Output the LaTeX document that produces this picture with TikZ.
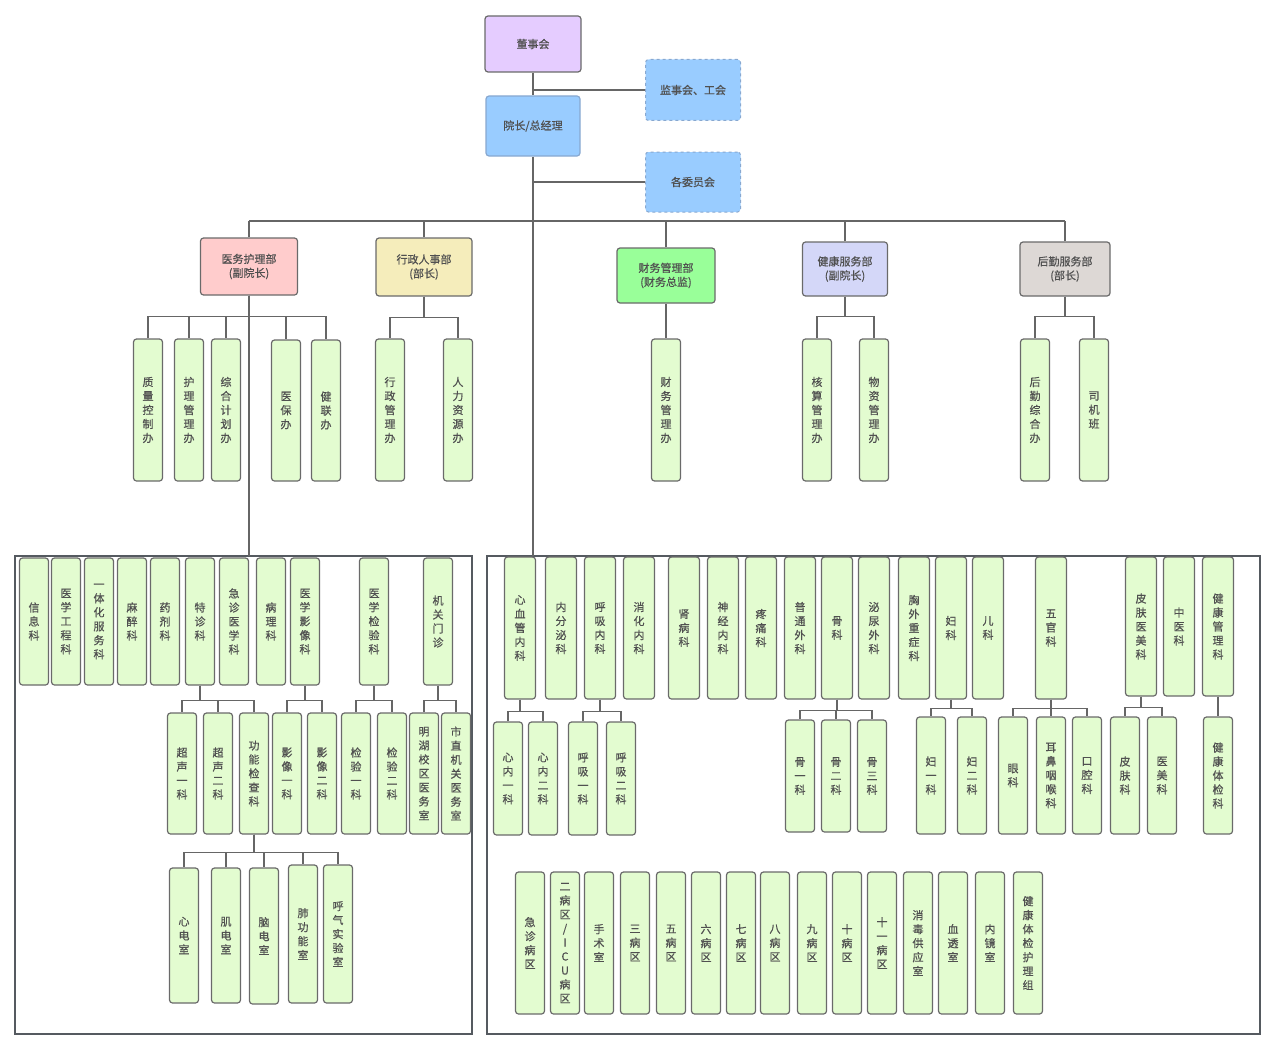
\documentclass[tikz,border=0pt]{standalone}
\usepackage{fontspec}
\setmainfont{Noto Sans CJK SC}[FakeBold=0.6]

\definecolor{txtgray}{HTML}{505050}
\definecolor{edgegray}{HTML}{6A6A6A}
\definecolor{linegray}{HTML}{666666}
\definecolor{framegray}{HTML}{555A60}
\definecolor{cellgreen}{HTML}{E3FCD0}
\definecolor{lavender}{HTML}{E5CCFF}
\definecolor{skyblue}{HTML}{99CCFF}
\definecolor{dashblue}{HTML}{88A8D0}
\definecolor{pinkred}{HTML}{FFCCCC}
\definecolor{sand}{HTML}{F5EDBB}
\definecolor{brightgreen}{HTML}{99FF99}
\definecolor{periwinkle}{HTML}{D4D7F8}
\definecolor{stone}{HTML}{DDD8D5}

\tikzset{
  every node/.style={font=\fontsize{11}{14}\selectfont,text=txtgray},
  cell/.style={draw=edgegray,line width=1.2pt,rounded corners=3pt,fill=cellgreen,
    minimum width=29,inner sep=0pt,align=center},
  wcell/.style={cell,minimum width=31},
  dept/.style={draw=edgegray,line width=1.2pt,rounded corners=3pt,inner sep=0pt,align=center},
  side/.style={draw=dashblue,dashed,line width=1pt,rounded corners=3pt,fill=skyblue,
    inner sep=0pt,minimum width=95,minimum height=61},
  link/.style={draw=linegray,line width=1.3pt},
  frame/.style={draw=framegray,line width=1.6pt},
}

\begin{document}
\begin{tikzpicture}[x=1pt,y=-1pt]
\useasboundingbox (0,0) rectangle (1268,1046);

% top
\node[dept,fill=lavender,minimum width=96,minimum height=56] (dsh) at (533,44) {董事会};
\node[dept,draw=dashblue,fill=skyblue,minimum width=94,minimum height=60] (yz) at (533,126) {院长/总经理};
\node[side] (jsh) at (693,90) {监事会、工会};
\node[side,minimum height=60] (wyh) at (693,182) {各委员会};
\coordinate (bar) at (533,221);
\coordinate (rtop) at (533,556);
\coordinate (ltop) at (249,556);

% departments
\node[dept,fill=pinkred,minimum width=97,minimum height=57] (ylhl) at (249,266.5) {医务护理部\\(副院长)};
\node[dept,fill=sand,minimum width=96,minimum height=58] (xzrs) at (424,267) {行政人事部\\(部长)};
\node[dept,fill=brightgreen,minimum width=98,minimum height=55] (cwb) at (666,275.5) {财务管理部\\(财务总监)};
\node[dept,fill=periwinkle,minimum width=85,minimum height=54] (jkfw) at (845,269) {健康服务部\\(副院长)};
\node[dept,fill=stone,minimum width=90,minimum height=54] (hqfw) at (1065,269) {后勤服务部\\(部长)};

% offices
\node[cell,minimum height=142] (zlkz) at (148,410) {质\\量\\控\\制\\办};
\node[cell,minimum height=142] (hlgl) at (189,410) {护\\理\\管\\理\\办};
\node[cell,minimum height=142] (zhjh) at (226,410) {综\\合\\计\\划\\办};
\node[cell,minimum height=141] (ybb) at (286,410.5) {医\\保\\办};
\node[cell,minimum height=141] (jlb) at (326,410.5) {健\\联\\办};
\node[cell,minimum height=142] (xzgl) at (390,410) {行\\政\\管\\理\\办};
\node[cell,minimum height=142] (rlzy) at (458,410) {人\\力\\资\\源\\办};
\node[cell,minimum height=142] (cwgl) at (666,410) {财\\务\\管\\理\\办};
\node[cell,minimum height=142] (hsgl) at (817,410) {核\\算\\管\\理\\办};
\node[cell,minimum height=142] (wzgl) at (874,410) {物\\资\\管\\理\\办};
\node[cell,minimum height=142] (hqzh) at (1035,410) {后\\勤\\综\\合\\办};
\node[cell,minimum height=142] (sjb) at (1094,410) {司\\机\\班};

% frames
\draw[frame] (15,556) rectangle (472,1034);
\draw[frame] (487,556) rectangle (1260,1034);

% left frame, row 1
\node[cell,minimum height=127] (xxk) at (34,621.5) {信\\息\\科};
\node[cell,minimum height=127] (yxgc) at (66,621.5) {医\\学\\工\\程\\科};
\node[cell,minimum height=127] (ythfw) at (99,621.5) {一\\体\\化\\服\\务\\科};
\node[cell,minimum height=127] (mzk) at (132,621.5) {麻\\醉\\科};
\node[cell,minimum height=127] (yjk) at (165,621.5) {药\\剂\\科};
\node[cell,minimum height=127] (tzk) at (200,621.5) {特\\诊\\科};
\node[cell,minimum height=127] (jzyx) at (234,621.5) {急\\诊\\医\\学\\科};
\node[cell,minimum height=127] (blk) at (271,621.5) {病\\理\\科};
\node[cell,minimum height=127] (yxyx) at (305,621.5) {医\\学\\影\\像\\科};
\node[cell,minimum height=127] (yxjy) at (374,621.5) {医\\学\\检\\验\\科};
\node[cell,minimum height=127] (jgmz) at (438,621.5) {机\\关\\门\\诊};

% left frame, row 2
\node[cell,minimum height=121] (cs1) at (182,773.5) {超\\声\\一\\科};
\node[cell,minimum height=121] (cs2) at (218,773.5) {超\\声\\二\\科};
\node[cell,minimum height=121] (gnjc) at (254,773.5) {功\\能\\检\\查\\科};
\node[cell,minimum height=121] (yx1) at (287,773.5) {影\\像\\一\\科};
\node[cell,minimum height=121] (yx2) at (322,773.5) {影\\像\\二\\科};
\node[cell,minimum height=121] (jy1) at (356,773.5) {检\\验\\一\\科};
\node[cell,minimum height=121] (jy2) at (392,773.5) {检\\验\\二\\科};
\node[cell,minimum height=121] (mhxq) at (424,773.5) {明\\湖\\校\\区\\医\\务\\室};
\node[cell,minimum height=121] (szjg) at (456,773.5) {市\\直\\机\\关\\医\\务\\室};

% left frame, row 3
\node[cell,minimum height=135] (xds) at (184,935.5) {心\\电\\室};
\node[cell,minimum height=135] (jds) at (226,935.5) {肌\\电\\室};
\node[cell,minimum height=136] (nds) at (264,936) {脑\\电\\室};
\node[cell,minimum height=138] (fgn) at (303,934) {肺\\功\\能\\室};
\node[cell,minimum height=138] (hqsy) at (338,934) {呼\\气\\实\\验\\室};

% right frame, row 1
\node[wcell,minimum height=142] (xxg) at (520,628) {心\\血\\管\\内\\科};
\node[wcell,minimum height=142] (nfm) at (561,628) {内\\分\\泌\\科};
\node[wcell,minimum height=142] (hxnk) at (600,628) {呼\\吸\\内\\科};
\node[wcell,minimum height=142] (xhnk) at (639,628) {消\\化\\内\\科};
\node[wcell,minimum height=142] (sbk) at (684,628) {肾\\病\\科};
\node[wcell,minimum height=142] (sjnk) at (723,628) {神\\经\\内\\科};
\node[wcell,minimum height=142] (ttk) at (761,628) {疼\\痛\\科};
\node[wcell,minimum height=142] (ptwk) at (800,628) {普\\通\\外\\科};
\node[wcell,minimum height=142] (gk) at (837,628) {骨\\科};
\node[wcell,minimum height=142] (mnwk) at (874,628) {泌\\尿\\外\\科};
\node[wcell,minimum height=142] (xwzz) at (914,628) {胸\\外\\重\\症\\科};
\node[wcell,minimum height=142] (fk) at (951,628) {妇\\科};
\node[wcell,minimum height=142] (ek) at (988,628) {儿\\科};
\node[wcell,minimum height=142] (wgk) at (1051,628) {五\\官\\科};
\node[wcell,minimum height=139] (pfmy) at (1141,626.5) {皮\\肤\\医\\美\\科};
\node[wcell,minimum height=139] (zyk) at (1179,626.5) {中\\医\\科};
\node[wcell,minimum height=139] (jkgl) at (1218,626.5) {健\\康\\管\\理\\科};

% right frame, row 2
\node[cell,minimum height=113] (xn1) at (508,778.5) {心\\内\\一\\科};
\node[cell,minimum height=113] (xn2) at (543,778.5) {心\\内\\二\\科};
\node[cell,minimum height=113] (hx1) at (583,778.5) {呼\\吸\\一\\科};
\node[cell,minimum height=113] (hx2) at (621,778.5) {呼\\吸\\二\\科};
\node[cell,minimum height=112] (gu1) at (800,776) {骨\\一\\科};
\node[cell,minimum height=112] (gu2) at (836,776) {骨\\二\\科};
\node[cell,minimum height=112] (gu3) at (872,776) {骨\\三\\科};
\node[cell,minimum height=117] (fu1) at (931,775.5) {妇\\一\\科};
\node[cell,minimum height=117] (fu2) at (972,775.5) {妇\\二\\科};
\node[cell,minimum height=117] (yk) at (1013,775.5) {眼\\科};
\node[cell,minimum height=117] (ebyh) at (1051,775.5) {耳\\鼻\\咽\\喉\\科};
\node[cell,minimum height=117] (kqk) at (1087,775.5) {口\\腔\\科};
\node[cell,minimum height=117] (pfk) at (1125,775.5) {皮\\肤\\科};
\node[cell,minimum height=117] (ymk) at (1162,775.5) {医\\美\\科};
\node[cell,minimum height=117] (jktj) at (1218,775.5) {健\\康\\体\\检\\科};

% right frame, row 3
\node[cell,minimum height=142] (jzbq) at (530,943) {急\\诊\\病\\区};
\node[cell,minimum height=142] (icu) at (565,943) {二\\病\\区\\/\\I\\C\\U\\病\\区};
\node[cell,minimum height=142] (sss) at (599,943) {手\\术\\室};
\node[cell,minimum height=142] (bq3) at (635,943) {三\\病\\区};
\node[cell,minimum height=142] (bq5) at (671,943) {五\\病\\区};
\node[cell,minimum height=142] (bq6) at (706,943) {六\\病\\区};
\node[cell,minimum height=142] (bq7) at (741,943) {七\\病\\区};
\node[cell,minimum height=142] (bq8) at (775,943) {八\\病\\区};
\node[cell,minimum height=142] (bq9) at (812,943) {九\\病\\区};
\node[cell,minimum height=142] (bq10) at (847,943) {十\\病\\区};
\node[cell,minimum height=142] (bq11) at (882,943) {十\\一\\病\\区};
\node[cell,minimum height=142] (xdgy) at (918,943) {消\\毒\\供\\应\\室};
\node[cell,minimum height=142] (xts) at (953,943) {血\\透\\室};
\node[cell,minimum height=142] (njs) at (990,943) {内\\镜\\室};
\node[cell,minimum height=142] (jkhl) at (1028,943) {健\\康\\体\\检\\护\\理\\组};

% connectors
\draw[link] (dsh) -- (yz);
\draw[link] (jsh.west) -- (jsh.west -| dsh.south);
\draw[link] (wyh.west) -- (wyh.west -| yz.south);
\draw[link] (yz.south) -- (rtop);
\draw[link] (ylhl.north |- bar) -- (hqfw.north |- bar);
\foreach \d in {ylhl,xzrs,cwb,jkfw,hqfw}
  \draw[link] (\d.north) -- (\d.north |- bar);
\draw[link] (ylhl.south) -- (ltop);
\foreach \c in {zlkz,hlgl,zhjh,ybb,jlb}
  \draw[link] (ylhl.south) -- ++(0,21) -| (\c.north);
\foreach \c in {xzgl,rlzy}
  \draw[link] (xzrs.south) -- ++(0,21) -| (\c.north);
\draw[link] (cwb) -- (cwgl);
\foreach \c in {hsgl,wzgl}
  \draw[link] (jkfw.south) -- ++(0,20) -| (\c.north);
\foreach \c in {hqzh,sjb}
  \draw[link] (hqfw.south) -- ++(0,20) -| (\c.north);

\foreach \c in {cs1,cs2,gnjc}
  \draw[link] (tzk.south) -- ++(0,15) -| (\c.north);
\foreach \c in {yx1,yx2}
  \draw[link] (yxyx.south) -- ++(0,15) -| (\c.north);
\foreach \c in {jy1,jy2}
  \draw[link] (yxjy.south) -- ++(0,15) -| (\c.north);
\foreach \c in {mhxq,szjg}
  \draw[link] (jgmz.south) -- ++(0,15) -| (\c.north);
\foreach \c in {xds,jds,nds,fgn,hqsy}
  \draw[link] (gnjc.south) -- ++(0,18) -| (\c.north);

\foreach \c in {xn1,xn2}
  \draw[link] (xxg.south) -- ++(0,12) -| (\c.north);
\foreach \c in {hx1,hx2}
  \draw[link] (hxnk.south) -- ++(0,12) -| (\c.north);
\foreach \c in {gu1,gu2,gu3}
  \draw[link] (gk.south) -- ++(0,11) -| (\c.north);
\foreach \c in {fu1,fu2}
  \draw[link] (fk.south) -- ++(0,9) -| (\c.north);
\foreach \c in {yk,ebyh,kqk}
  \draw[link] (wgk.south) -- ++(0,9) -| (\c.north);
\foreach \c in {pfk,ymk}
  \draw[link] (pfmy.south) -- ++(0,11) -| (\c.north);
\draw[link] (jkgl) -- (jktj);
\end{tikzpicture}
\end{document}
